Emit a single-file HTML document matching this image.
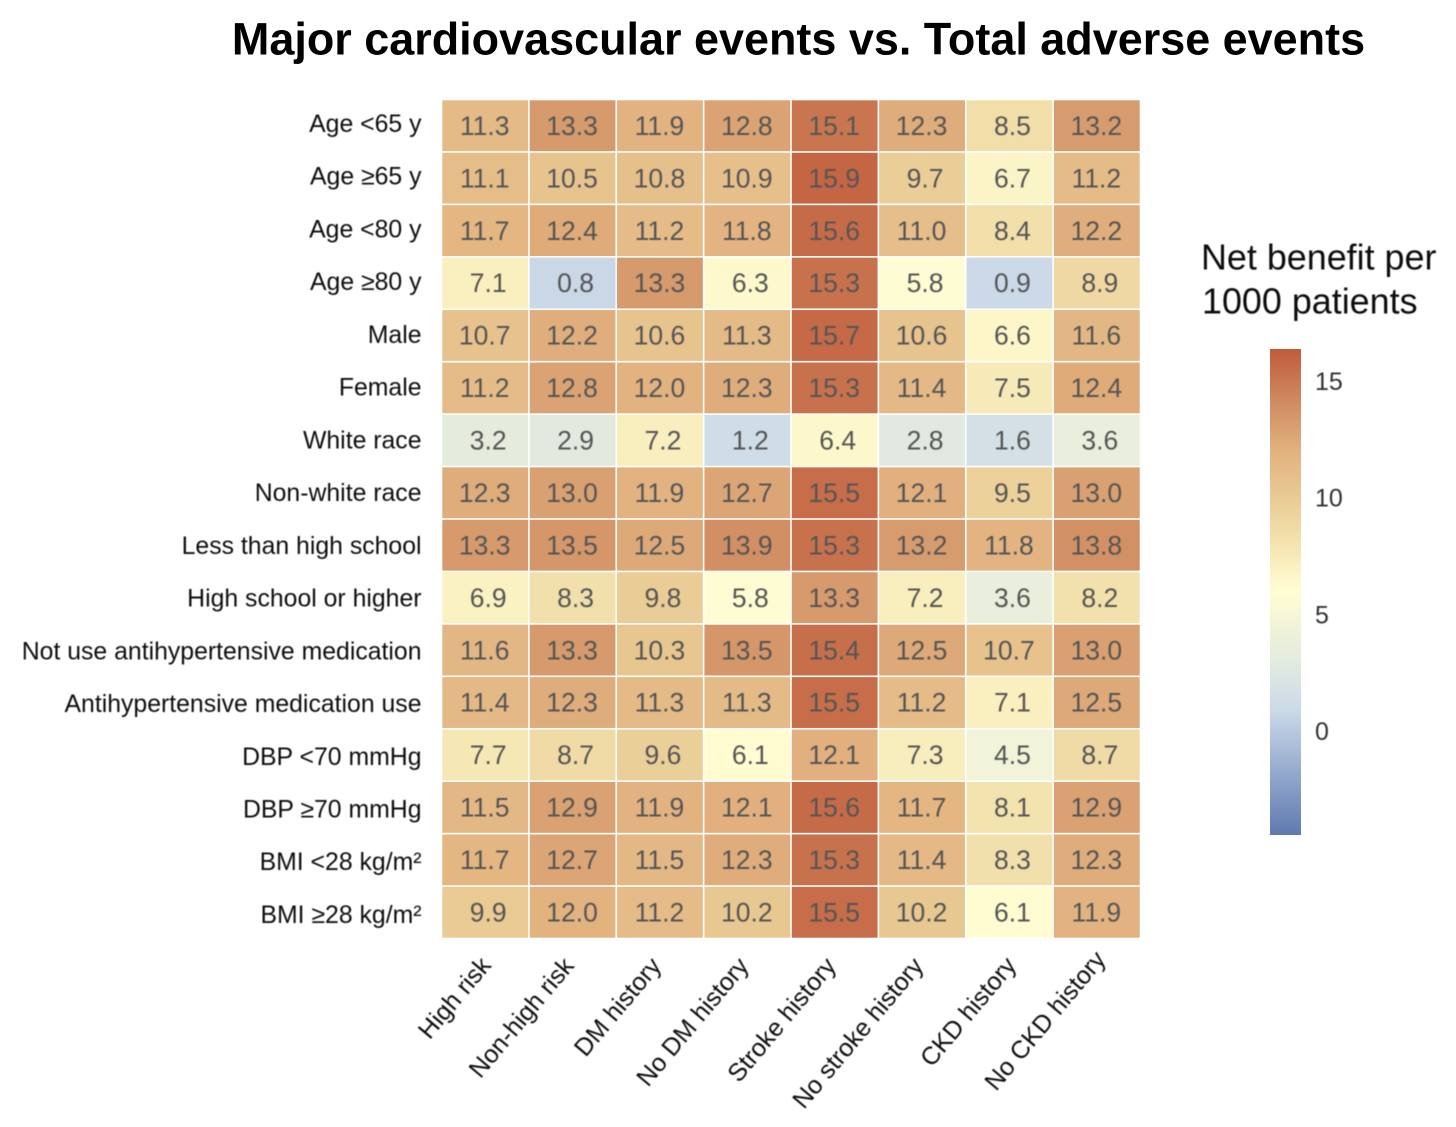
<!DOCTYPE html>
<html lang="en">
<head>
<meta charset="utf-8">
<title>Major cardiovascular events vs. Total adverse events</title>
<style>
html,body{margin:0;padding:0;background:#fff;}
body{width:1456px;height:1127px;overflow:hidden;}
svg{display:block;font-family:"Liberation Sans",Arial,sans-serif;}
</style>
</head>
<body>
<svg id="chart" width="1456" height="1127" viewBox="0 0 1456 1127" xmlns="http://www.w3.org/2000/svg">
<defs>
<linearGradient id="cbar" x1="0" y1="0" x2="0" y2="1"></linearGradient>
<filter id="soft" x="-5%" y="-5%" width="110%" height="110%"><feGaussianBlur stdDeviation="0.4"/></filter>
</defs>
<text x="798.5" y="54.5" text-anchor="middle" font-size="44.95" font-weight="700" fill="#000">Major cardiovascular events vs. Total adverse events</text>
<g id="cells"></g>
<g id="values" filter="url(#soft)"></g>
<g id="ylabels" filter="url(#soft)"></g>
<g id="xlabels" filter="url(#soft)"></g>
<g>
<g filter="url(#soft)">
<text x="1201" y="269.5" font-size="35.9" fill="#111">Net benefit per</text>
<text x="1202" y="313.5" font-size="35.9" fill="#111">1000 patients</text>
</g>
<rect id="cbar-rect" fill="url(#cbar)"></rect>
<g id="cbar-ticks" filter="url(#soft)"></g>
</g>
</svg>
<script>
const rowLabels = ["Age <65 y","Age ≥65 y","Age <80 y","Age ≥80 y","Male","Female","White race","Non-white race","Less than high school","High school or higher","Not use antihypertensive medication","Antihypertensive medication use","DBP <70 mmHg","DBP ≥70 mmHg","BMI <28 kg/m²","BMI ≥28 kg/m²"];
const colLabels = ["High risk","Non-high risk","DM history","No DM history","Stroke history","No stroke history","CKD history","No CKD history"];
const values = [
[11.3,13.3,11.9,12.8,15.1,12.3,8.5,13.2],
[11.1,10.5,10.8,10.9,15.9,9.7,6.7,11.2],
[11.7,12.4,11.2,11.8,15.6,11.0,8.4,12.2],
[7.1,0.8,13.3,6.3,15.3,5.8,0.9,8.9],
[10.7,12.2,10.6,11.3,15.7,10.6,6.6,11.6],
[11.2,12.8,12.0,12.3,15.3,11.4,7.5,12.4],
[3.2,2.9,7.2,1.2,6.4,2.8,1.6,3.6],
[12.3,13.0,11.9,12.7,15.5,12.1,9.5,13.0],
[13.3,13.5,12.5,13.9,15.3,13.2,11.8,13.8],
[6.9,8.3,9.8,5.8,13.3,7.2,3.6,8.2],
[11.6,13.3,10.3,13.5,15.4,12.5,10.7,13.0],
[11.4,12.3,11.3,11.3,15.5,11.2,7.1,12.5],
[7.7,8.7,9.6,6.1,12.1,7.3,4.5,8.7],
[11.5,12.9,11.9,12.1,15.6,11.7,8.1,12.9],
[11.7,12.7,11.5,12.3,15.3,11.4,8.3,12.3],
[9.9,12.0,11.2,10.2,15.5,10.2,6.1,11.9]
];
const legendTicks = [15,10,5,0];
const colorDomainMin = -4.46;
const colorDomainMax = 16.37;
const colorStopValues = [-4.46,0,1,3,6,8,10,12,14,16.37];
const colorStopHues = ["#5f7ab1","#b9c9e0","#cddbe9","#e3ebdf","#fffdd2","#f4e4b0","#e9ca93","#e2b27f","#d08d62","#c15b3b"];

const NS = "http://www.w3.org/2000/svg";
const plotLeft = 441.5, plotRight = 1140.5, plotTop = 99.5, plotBottom = 938.5;
const cbLeft = 1270, cbRight = 1301, cbTop = 349, cbBottom = 835;

function xBand(i){ return plotLeft + i * (plotRight - plotLeft) / colLabels.length; }
function yBand(i){ return plotTop + i * (plotBottom - plotTop) / rowLabels.length; }
function rowLabelY(i){ return 130 + i * 52.73; }
function cbY(v){ return cbTop + (colorDomainMax - v) / (colorDomainMax - colorDomainMin) * (cbBottom - cbTop); }
function hexToRgb(h){ return [1,3,5].map(function(k){ return parseInt(h.substr(k,2),16); }); }
function colorFor(v){
  const n = colorStopValues.length;
  if (v <= colorStopValues[0]) return colorStopHues[0];
  if (v >= colorStopValues[n-1]) return colorStopHues[n-1];
  for (let k = 0; k < n-1; k++){
    if (v <= colorStopValues[k+1]){
      const t = (v - colorStopValues[k]) / (colorStopValues[k+1] - colorStopValues[k]);
      const a = hexToRgb(colorStopHues[k]), b = hexToRgb(colorStopHues[k+1]);
      return "rgb(" + a.map(function(c,m){ return Math.round(c + (b[m]-c)*t); }).join(",") + ")";
    }
  }
}
function make(tag, attrs, text){
  const el = document.createElementNS(NS, tag);
  Object.keys(attrs).forEach(function(k){ el.setAttribute(k, attrs[k]); });
  if (text !== undefined) el.textContent = text;
  return el;
}
/* small per-label layout nudges for the slanted column labels */
function xLabelNudge(c){
  if (c === 7) return [4,-6];
  if (c === 6) return [2,0];
  if (c === 0) return [1,0];
  return [-3.5,0.5];
}

const cellsG = document.getElementById("cells");
const valuesG = document.getElementById("values");
const ylabelsG = document.getElementById("ylabels");
const xlabelsG = document.getElementById("xlabels");
const ticksG = document.getElementById("cbar-ticks");

values.forEach(function(row, r){
  row.forEach(function(v, c){
    const x0 = xBand(c), x1 = xBand(c+1), y0 = yBand(r), y1 = yBand(r+1);
    const rect = make("rect", {x:x0+0.8, y:y0+0.8, width:x1-x0-1.6, height:y1-y0-1.6, fill:colorFor(v)});
    
    
    cellsG.appendChild(rect);
    const label = v.toFixed(1);
    const shift = label.length < 4 ? 3.5 : 0;
    const t = make("text", {x:(x0+x1)/2-0.5+shift, y:(y0+y1)/2+9.2, "text-anchor":"middle", "font-size":26.5, fill:"#555"}, label);
    
    
    valuesG.appendChild(t);
  });
});

rowLabels.forEach(function(label, r){
  const t = make("text", {x:421.5, y:rowLabelY(r)+2, "text-anchor":"end", "font-size":24.8, fill:"#111"}, label);
  
  
  ylabelsG.appendChild(t);
});

colLabels.forEach(function(label, c){
  const n = xLabelNudge(c);
  const ax = (xBand(c)+xBand(c+1))/2 + 6 + n[0], ay = 966 + n[1];
  const t = make("text", {x:ax, y:ay, "text-anchor":"end", "font-size":25, fill:"#111", transform:"rotate(-50 "+ax+" "+ay+")"}, label);
  
  
  xlabelsG.appendChild(t);
});

const grad = document.getElementById("cbar");
colorStopValues.slice().reverse().forEach(function(v){
  const offset = (colorDomainMax - v) / (colorDomainMax - colorDomainMin);
  grad.appendChild(make("stop", {offset:offset, "stop-color":colorFor(v)}));
});
const cb = document.getElementById("cbar-rect");
cb.setAttribute("x", cbLeft);
cb.setAttribute("y", cbTop);
cb.setAttribute("width", cbRight - cbLeft);
cb.setAttribute("height", cbBottom - cbTop);

legendTicks.forEach(function(v){
  const t = make("text", {x:1315, y:cbY(v)+9, "font-size":25, fill:"#333"}, String(v));
  
  
  ticksG.appendChild(t);
});
</script>
</body>
</html>
